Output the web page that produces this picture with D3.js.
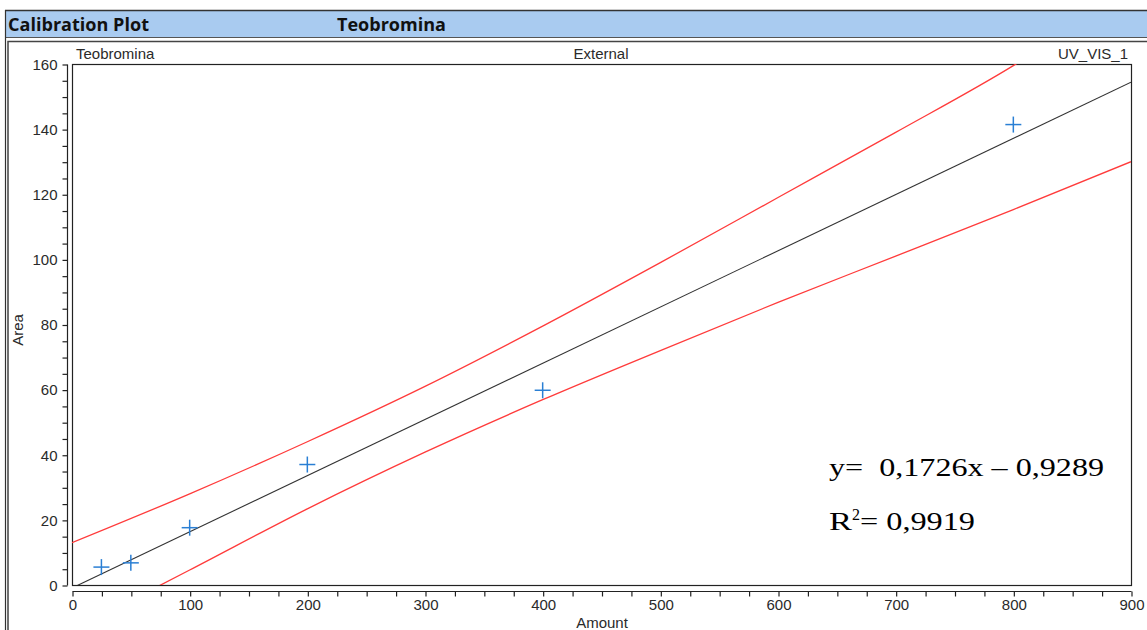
<!DOCTYPE html>
<html>
<head>
<meta charset="utf-8">
<script src="https://cdn.jsdelivr.net/npm/d3@7"></script>
<style>
  html, body { margin: 0; padding: 0; background: #fff; }
  svg { display: block; }
</style>
</head>
<body>
<svg id="chart" width="1147" height="630"></svg>
<script>
// Calibration standards (amount, peak area)
const amounts = [25, 50, 100, 200, 400, 800];
const areas = [5.5, 6.8, 17.6, 37.0, 59.8, 141.4];

// Linear fit y = slope * x + intercept
const slope = 0.1726;
const intercept = -0.9289;
const rSquared = 0.9919;
const fitRange = [0, 900];

// Confidence limits around the fit
const upperX = [0, 100, 200, 300, 400, 500, 600, 700, 800, 820];
const upperY = [13.0, 28.0, 44.0, 61.0, 79.5, 99.0, 119.0, 139.0, 159.5, 164.0];
const lowerX = [70, 100, 200, 300, 400, 500, 600, 700, 800, 900];
const lowerY = [-1.0, 4.6, 23.4, 40.8, 56.9, 72.0, 86.8, 101.0, 115.3, 130.0];

const xTicks = [0, 100, 200, 300, 400, 500, 600, 700, 800, 900];
const yTicks = [0, 20, 40, 60, 80, 100, 120, 140, 160];

const svg = d3.select("#chart");
const comma = v => String(v).replace(".", ",");

// Title bar
svg.append("rect").attr("x", 6).attr("y", 11).attr("width", 1141).attr("height", 26)
  .attr("fill", "#a9cbf0");
svg.append("line").attr("x1", 5).attr("x2", 1147).attr("y1", 10.5).attr("y2", 10.5)
  .attr("stroke", "#333").attr("stroke-width", 1.5);
svg.append("line").attr("x1", 5).attr("x2", 1147).attr("y1", 37.5).attr("y2", 37.5)
  .attr("stroke", "#555").attr("stroke-width", 1);
svg.append("line").attr("x1", 5.5).attr("x2", 5.5).attr("y1", 10).attr("y2", 630)
  .attr("stroke", "#333").attr("stroke-width", 1.2);
svg.append("text").attr("x", 8).attr("y", 31)
  .attr("font-family", "'Open Sans', sans-serif").attr("font-weight", "bold")
  .attr("font-size", 18.5).attr("fill", "#111")
  .attr("textLength", 141).attr("lengthAdjust", "spacingAndGlyphs")
  .text("Calibration Plot");
svg.append("text").attr("x", 337).attr("y", 31)
  .attr("font-family", "'Open Sans', sans-serif").attr("font-weight", "bold")
  .attr("font-size", 18.5).attr("fill", "#111")
  .attr("textLength", 109).attr("lengthAdjust", "spacingAndGlyphs")
  .text("Teobromina");

// Chart frame
svg.append("rect").attr("x", 8).attr("y", 41.5).attr("width", 1145).attr("height", 600)
  .attr("fill", "none").attr("stroke", "#444").attr("stroke-width", 1.5);

const plot = { left: 72, right: 1131, top: 64, bottom: 585 };

const x = d3.scaleLinear().domain([0, 900]).range([plot.left, plot.right]);
const y = d3.scaleLinear().domain([0, 160]).range([plot.bottom, plot.top]);

const font = "'Liberation Sans', Arial, sans-serif";
const fs = 15;
const ink = "#2a2a2a";

// Header labels
svg.append("text").attr("x", 76).attr("y", 58.5).attr("font-family", font)
  .attr("font-size", fs).attr("fill", ink).text("Teobromina");
svg.append("text").attr("x", 601).attr("y", 58.5).attr("text-anchor", "middle")
  .attr("font-family", font).attr("font-size", fs).attr("fill", ink).text("External");
svg.append("text").attr("x", 1128).attr("y", 58.5).attr("text-anchor", "end")
  .attr("font-family", font).attr("font-size", fs).attr("fill", ink).text("UV_VIS_1");

// Clip region for the plotted curves
svg.append("clipPath").attr("id", "plotClip")
  .append("rect").attr("x", plot.left).attr("y", plot.top)
  .attr("width", plot.right - plot.left).attr("height", plot.bottom - plot.top);

// Plot border
svg.append("rect").attr("x", plot.left + 0.5).attr("y", plot.top + 0.5)
  .attr("width", plot.right - plot.left).attr("height", plot.bottom - plot.top)
  .attr("fill", "none").attr("stroke", "#222").attr("stroke-width", 1.2);

// X axis (offset below the plot box)
const xAxis = d3.axisBottom(x).tickValues(d3.range(0, 901, 25)).tickSize(5)
  .tickFormat(d => xTicks.includes(d) ? d : "");
const gx = svg.append("g").attr("transform", `translate(0.5,${plot.bottom + 6.5})`).call(xAxis);
gx.select(".domain").attr("stroke", "#222").attr("stroke-width", 1.2).attr("d", `M${plot.left},0H${plot.right}`);
gx.selectAll(".tick line").attr("stroke", "#222").attr("stroke-width", 1.2);
gx.selectAll(".tick text").attr("font-family", font).attr("font-size", fs).attr("fill", ink);

// Y axis (offset left of the plot box)
const yAxis = d3.axisLeft(y).tickValues(d3.range(0, 161, 5)).tickSize(5)
  .tickFormat(d => yTicks.includes(d) ? d : "");
const gy = svg.append("g").attr("transform", `translate(${plot.left - 4.5},0.5)`).call(yAxis);
gy.select(".domain").attr("stroke", "#222").attr("stroke-width", 1.2).attr("d", `M0,${plot.top}V${plot.bottom}`);
gy.selectAll(".tick line").attr("stroke", "#222").attr("stroke-width", 1.2);
gy.selectAll(".tick text").attr("font-family", font).attr("font-size", fs)
  .attr("fill", ink).attr("x", -10);

// Axis titles
svg.append("text").attr("x", 602).attr("y", 628).attr("text-anchor", "middle")
  .attr("font-family", font).attr("font-size", fs).attr("fill", ink).text("Amount");
svg.append("text").attr("transform", "translate(23,330) rotate(-90)").attr("text-anchor", "middle")
  .attr("font-family", font).attr("font-size", fs).attr("fill", ink).text("Area");

const plotArea = svg.append("g").attr("clip-path", "url(#plotClip)");

// Confidence limits
const band = d3.line().x(d => x(d[0])).y(d => y(d[1])).curve(d3.curveMonotoneX);
plotArea.append("path").datum(upperX.map((v, i) => [v, upperY[i]]))
  .attr("d", band).attr("fill", "none").attr("stroke", "#ff3b3b").attr("stroke-width", 1.3);
plotArea.append("path").datum(lowerX.map((v, i) => [v, lowerY[i]]))
  .attr("d", band).attr("fill", "none").attr("stroke", "#ff3b3b").attr("stroke-width", 1.3);

// Regression line
plotArea.append("path").datum(fitRange.map(v => [v, slope * v + intercept]))
  .attr("d", d3.line().x(d => x(d[0])).y(d => y(d[1])))
  .attr("fill", "none").attr("stroke", "#333").attr("stroke-width", 1.1);

// Standards as plus markers
const arm = 8;
const pts = svg.append("g").selectAll("g").data(amounts.map((a, i) => [a, areas[i]])).join("g")
  .attr("transform", d => `translate(${x(d[0])},${y(d[1])})`);
pts.append("line").attr("x1", -arm).attr("x2", arm).attr("y1", 0).attr("y2", 0)
  .attr("stroke", "#2a7fd4").attr("stroke-width", 1.5);
pts.append("line").attr("x1", 0).attr("x2", 0).attr("y1", -arm).attr("y2", arm)
  .attr("stroke", "#2a7fd4").attr("stroke-width", 1.5);

// Regression equation
const serif = "'Liberation Serif', 'Times New Roman', serif";
svg.append("text").attr("x", 829).attr("y", 476).attr("font-family", serif)
  .attr("font-size", 26).attr("fill", "#000").attr("xml:space", "preserve")
  .attr("textLength", 275).attr("lengthAdjust", "spacingAndGlyphs")
  .text(`y=  ${comma(slope)}x – ${comma(-intercept)}`);
const r2 = svg.append("text").attr("x", 829).attr("y", 530).attr("font-family", serif)
  .attr("font-size", 26).attr("fill", "#000");
r2.append("tspan").attr("textLength", 23).attr("lengthAdjust", "spacingAndGlyphs").text("R");
r2.append("tspan").attr("font-size", 16).attr("dy", -10).text("2");
r2.append("tspan").attr("dy", 10).attr("textLength", 115).attr("lengthAdjust", "spacingAndGlyphs")
  .text(`= ${comma(rSquared)}`);
</script>
</body>
</html>
